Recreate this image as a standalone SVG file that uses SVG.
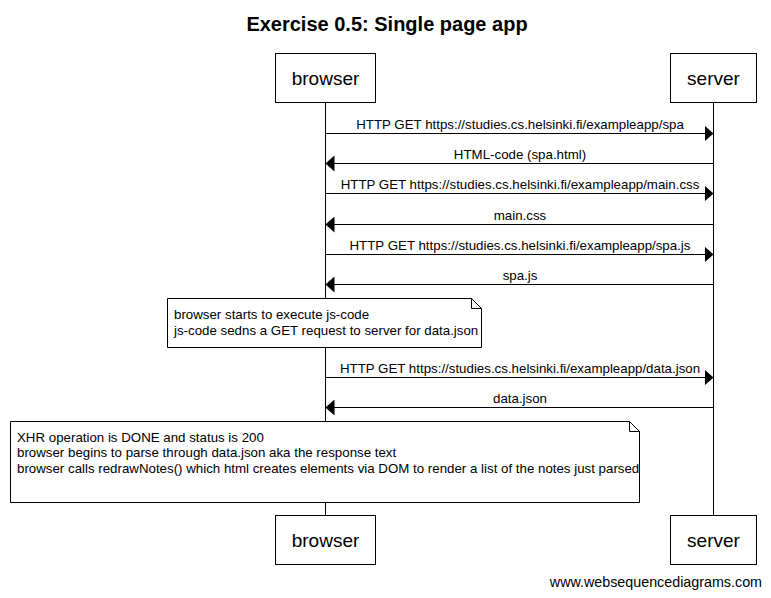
<svg xmlns="http://www.w3.org/2000/svg" width="771" height="598" viewBox="0 0 771 598">
<style>
.box{fill:#fff;stroke:#000;stroke-width:1}
.life{stroke:#000;stroke-width:1}
.msg{stroke:#000;stroke-width:1;fill:none;marker-end:url(#ah)}
.pt{font-family:"Liberation Sans",Arial,sans-serif;font-size:19px;text-anchor:middle;fill:#000}
.ml{font-family:"Liberation Sans",Arial,sans-serif;font-size:13.3px;text-anchor:middle;fill:#000}
.nt{font-family:"Liberation Sans",Arial,sans-serif;font-size:13.3px;fill:#000}
.note{fill:#fff;stroke:#000;stroke-width:1}
.fold{fill:none;stroke:#000;stroke-width:1}
</style>
<defs>
<marker id="ah" viewBox="0 0 9 16" refX="9" refY="8" markerWidth="9" markerHeight="16" markerUnits="userSpaceOnUse" orient="auto">
<path d="M0,0 L9,8 L0,16 Z" fill="#000"/>
</marker>
</defs>
<rect width="771" height="598" fill="#fff"/>
<text x="387" y="31" font-family="'Liberation Sans',Arial,sans-serif" font-size="20" font-weight="bold" text-anchor="middle">Exercise 0.5: Single page app</text>
<g id="lifelines">
<line class="life" x1="325.5" y1="102" x2="325.5" y2="516"/>
<line class="life" x1="713.5" y1="102" x2="713.5" y2="516"/>
</g>
<g id="browser-top"><rect class="box" x="275.5" y="53.5" width="100" height="49"/><text class="pt" x="325.5" y="85">browser</text></g>
<g id="server-top"><rect class="box" x="670.5" y="53.5" width="86" height="49"/><text class="pt" x="713.5" y="85">server</text></g>
<g id="browser-bottom"><rect class="box" x="275.5" y="515.5" width="100" height="49"/><text class="pt" x="325.5" y="547">browser</text></g>
<g id="server-bottom"><rect class="box" x="670.5" y="515.5" width="86" height="49"/><text class="pt" x="713.5" y="547">server</text></g>
<g id="connectors">
<line class="msg" x1="325.5" y1="133.5" x2="713.5" y2="133.5"/>
<text class="ml" x="520" y="129">HTTP GET https://studies.cs.helsinki.fi/exampleapp/spa</text>
<line class="msg" x1="713.5" y1="163.5" x2="325.5" y2="163.5"/>
<text class="ml" x="520" y="159">HTML-code (spa.html)</text>
<line class="msg" x1="325.5" y1="193.5" x2="713.5" y2="193.5"/>
<text class="ml" x="520" y="189">HTTP GET https://studies.cs.helsinki.fi/exampleapp/main.css</text>
<line class="msg" x1="713.5" y1="224.5" x2="325.5" y2="224.5"/>
<text class="ml" x="520" y="220">main.css</text>
<line class="msg" x1="325.5" y1="254.5" x2="713.5" y2="254.5"/>
<text class="ml" x="520" y="250">HTTP GET https://studies.cs.helsinki.fi/exampleapp/spa.js</text>
<line class="msg" x1="713.5" y1="284.5" x2="325.5" y2="284.5"/>
<text class="ml" x="520" y="280">spa.js</text>
<line class="msg" x1="325.5" y1="377.5" x2="713.5" y2="377.5"/>
<text class="ml" x="520" y="373">HTTP GET https://studies.cs.helsinki.fi/exampleapp/data.json</text>
<line class="msg" x1="713.5" y1="407.5" x2="325.5" y2="407.5"/>
<text class="ml" x="520" y="403">data.json</text>
</g>
<g id="note1">
<path class="note" d="M167.5,298.5 H471.5 L481.5,308.5 V347.5 H167.5 Z"/>
<path class="fold" d="M471.5,298.5 V308.5 H481.5"/>
<text class="nt" x="174" y="319">browser starts to execute js-code</text>
<text class="nt" x="174" y="335">js-code sedns a GET request to server for data.json</text>
</g>
<g id="note2">
<path class="note" d="M10.5,421.5 H629.5 L639.5,431.5 V502.5 H10.5 Z"/>
<path class="fold" d="M629.5,421.5 V431.5 H639.5"/>
<text class="nt" x="17" y="442">XHR operation is DONE and status is 200</text>
<text class="nt" x="17" y="457">browser begins to parse through data.json aka the response text</text>
<text class="nt" x="17" y="473">browser calls redrawNotes() which html creates elements via DOM to render a list of the notes just parsed</text>
</g>
<text x="762" y="587" font-family="'Liberation Sans',Arial,sans-serif" font-size="14.3" text-anchor="end">www.websequencediagrams.com</text>
</svg>
